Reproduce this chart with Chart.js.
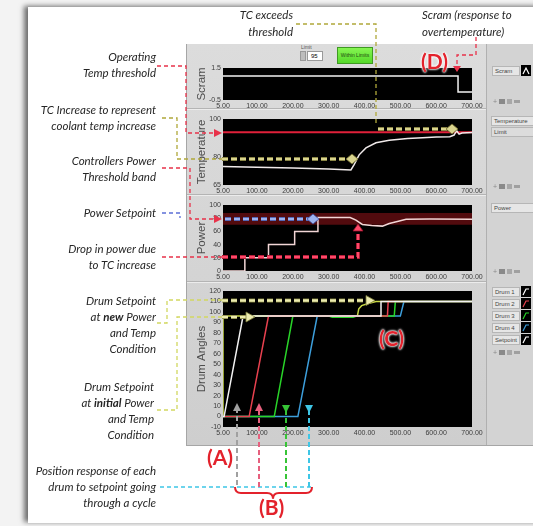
<!DOCTYPE html>
<html>
<head>
<meta charset="utf-8">
<script src="https://cdn.jsdelivr.net/npm/chart.js@4.4.1/dist/chart.umd.min.js"></script>
<style>
  html, body { margin: 0; padding: 0; }
  body { width: 533px; height: 526px; overflow: hidden; position: relative; background: #f3f3f3; font-family: "Lato", "Liberation Sans", sans-serif; }
  .abs { position: absolute; }
  #card { left: 28px; top: 7px; width: 530px; height: 516px; background: #fff; box-shadow: -4px -1px 5px rgba(0,0,0,0.55); }
  #panel { left: 186px; top: 44px; width: 360px; height: 401px; background: linear-gradient(#dcdcdc, #cecece); border-left: 1px solid #a6a6a6; border-bottom: 1px solid #a6a6a6; }
  .sep { left: 187px; width: 299px; height: 0; border-top: 1px solid #b4b4b4; border-bottom: 1px solid #ececec; }
  #rcol { left: 486px; top: 44px; width: 60px; height: 401px; background: #d3d3d3; border-left: 1px solid #b0b0b0; }
  .lg { height: 10px; background: #e6e6e6; border: 1px solid #b6b6b6; font: 6px "Liberation Sans", sans-serif; color: #444; line-height: 9px; padding-left: 2px; box-sizing: border-box; }
  .note { font-style: italic; font-size: 11.5px; line-height: 16px; color: #262626; text-align: right; white-space: nowrap; }
  .tag { color: #e3222c; font-size: 21px; font-weight: bold; line-height: 22px; text-shadow: 0 0 2px #fff, 0 0 2px #fff, 0 0 3px #fff; }
  canvas { position: absolute; }
</style>
</head>
<body>
<div id="card" class="abs"></div>
<div id="panel" class="abs"></div>
<div class="abs sep" style="top:108px"></div>
<div class="abs sep" style="top:194px"></div>
<div class="abs sep" style="top:281px"></div>
<div id="rcol" class="abs"></div>

<!-- LabVIEW controls on top -->
<div class="abs" style="left:301px;top:44px;font:5px 'Liberation Sans';color:#555">Limit</div>
<div class="abs" style="left:300px;top:51px;width:6px;height:10px;background:#bdbdbd;border:1px solid #999;box-sizing:border-box"></div>
<div class="abs" style="left:307px;top:51px;width:16px;height:10px;background:#fff;border:1px solid #999;box-sizing:border-box;font:6px 'Liberation Sans';line-height:8px;padding-left:3px">95</div>
<div class="abs" style="left:337px;top:47px;width:36px;height:17px;background:linear-gradient(#86f552,#55d92a);border:1px solid #3f9a22;box-sizing:border-box;font:5px 'Liberation Sans';line-height:15px;text-align:center;color:#1f4a10">Within Limits</div>

<!-- right column legends -->
<div class="abs lg" style="left:492px;top:66px;width:28px">Scram</div>
<div class="abs lg" style="left:491px;top:116px;width:44px">Temperature</div>
<div class="abs lg" style="left:491px;top:127px;width:44px;background:#dcdcdc">Limit</div>
<div class="abs lg" style="left:491px;top:203px;width:44px">Power</div>
<div class="abs lg" style="left:492px;top:287px;width:28px">Drum 1</div>
<div class="abs lg" style="left:492px;top:299px;width:28px">Drum 2</div>
<div class="abs lg" style="left:492px;top:311px;width:28px">Drum 3</div>
<div class="abs lg" style="left:492px;top:323px;width:28px">Drum 4</div>
<div class="abs lg" style="left:492px;top:335px;width:28px">Setpoint</div>

<canvas id="gScram"></canvas>
<canvas id="gTemp"></canvas>
<canvas id="gPower"></canvas>
<canvas id="gDrum"></canvas>

<svg class="abs" width="533" height="526" style="left:0;top:0">
  <!-- legend icons and palettes -->
  <g>
    <rect x="521" y="65" width="10" height="11" fill="#000"/>
    <polyline points="523,74 526,68 529,74" fill="none" stroke="#fff" stroke-width="1.2"/>
    <rect x="521" y="286" width="10" height="11" fill="#000"/><polyline points="523,295 526,289 529,289" fill="none" stroke="#fff" stroke-width="1.2"/>
    <rect x="521" y="298" width="10" height="11" fill="#000"/><polyline points="523,307 526,301 529,301" fill="none" stroke="#e8414f" stroke-width="1.2"/>
    <rect x="521" y="310" width="10" height="11" fill="#000"/><polyline points="523,319 526,313 529,313" fill="none" stroke="#29d529" stroke-width="1.2"/>
    <rect x="521" y="322" width="10" height="11" fill="#000"/><polyline points="523,331 526,325 529,325" fill="none" stroke="#3d9fdc" stroke-width="1.2"/>
    <rect x="521" y="334" width="10" height="11" fill="#000"/><polyline points="523,343 526,337 529,337" fill="none" stroke="#fff" stroke-width="1.2"/>
  </g>
  <g fill="#8a8a8a" stroke="none" font-family="Liberation Sans" font-size="7">
    <text x="493" y="104">+</text><rect x="499" y="99" width="6" height="5"/><rect x="507" y="99" width="5" height="5" fill="#a8a8a8"/><rect x="514" y="100" width="6" height="3" fill="#a0a0a0"/>
    <text x="493" y="189">+</text><rect x="499" y="184" width="6" height="5"/><rect x="507" y="184" width="5" height="5" fill="#a8a8a8"/><rect x="514" y="185" width="6" height="3" fill="#a0a0a0"/>
    <text x="493" y="274">+</text><rect x="499" y="269" width="6" height="5"/><rect x="507" y="269" width="5" height="5" fill="#a8a8a8"/><rect x="514" y="270" width="6" height="3" fill="#a0a0a0"/>
    <text x="493" y="355">+</text><rect x="499" y="350" width="6" height="5"/><rect x="507" y="350" width="5" height="5" fill="#a8a8a8"/><rect x="514" y="351" width="6" height="3" fill="#a0a0a0"/>
  </g>

  <!-- thin dashed connectors -->
  <g fill="none" stroke-width="1.3" stroke-dasharray="4 3">
    <path d="M157 66 H186 V133 H215" stroke="#e8324a"/>
    <path d="M162 118 H177 V159 H222" stroke="#b0a83a"/>
    <path d="M296 24 H376 V126" stroke="#b0a83a"/>
    <path d="M162 168 H190 V219 H215" stroke="#e8324a"/>
    <path d="M162 213 H180 V218" stroke="#5c6fd6"/>
    <path d="M162 257 H222" stroke="#e8324a"/>
    <path d="M157 323 H167 V300 H222" stroke="#d2d860"/>
    <path d="M157 410 H177 V317 H222" stroke="#d2d860"/>
    <path d="M160 487 H311" stroke="#3ec6e6"/>
    <path d="M476 37 V55 H457 V66" stroke="#e8324a"/>
  </g>
  <g fill="none" stroke-width="2" stroke-dasharray="5 3">
    <path d="M237 485 V411" stroke="#a0a0a0"/>
    <path d="M259 487 V411" stroke="#e6607e"/>
    <path d="M286 487 V411" stroke="#36c436"/>
    <path d="M309 487 V411" stroke="#3ec6e6"/>
  </g>
  <g stroke="none">
    <polygon points="233,411 237,403 241,411" fill="#a0a0a0"/>
    <polygon points="255,411 259,403 263,411" fill="#e6607e"/>
    <polygon points="282,405 286,413 290,405" fill="#36c436"/>
    <polygon points="305,405 309,413 313,405" fill="#3ec6e6"/>
    <polygon points="214,129 222,133 214,137" fill="#e8324a"/>
    <polygon points="214,215 222,219 214,223" fill="#e8324a"/>
    <polygon points="453,66 457,72 461,66" fill="#e8324a"/>
  </g>

  <!-- thick dashed arrows inside plots -->
  <g fill="none" stroke-dasharray="6 3">
    <path d="M222 159 H348" stroke="#6e6a2c" stroke-width="4.2"/>
    <path d="M222 159 H348" stroke="#d9d48e" stroke-width="2.6"/>
    <path d="M378 129 H448" stroke="#6e6a2c" stroke-width="4.2"/>
    <path d="M378 129 H448" stroke="#d9d48e" stroke-width="2.6"/>
    <path d="M225 219 H309" stroke="#3d4fa0" stroke-width="4.2"/>
    <path d="M225 219 H309" stroke="#9db2ee" stroke-width="2.6"/>
    <path d="M222 257 H358 V230" stroke="#9a1028" stroke-width="4"/>
    <path d="M222 257 H358 V230" stroke="#ff4a6a" stroke-width="2.4"/>
    <path d="M222 300.5 H368" stroke="#7c7c3a" stroke-width="4.2"/>
    <path d="M222 300.5 H368" stroke="#ecebae" stroke-width="2.6"/>
    <path d="M222 317 H248" stroke="#7c7c3a" stroke-width="4.2"/>
    <path d="M222 317 H248" stroke="#ecebae" stroke-width="2.6"/>
  </g>
  <g stroke-width="0.8">
    <polygon points="346,159 352,154 358,159 352,164" fill="#d9d48e" stroke="#6e6a2c"/>
    <polygon points="446,129 452,124 458,129 452,134" fill="#d9d48e" stroke="#6e6a2c"/>
    <polygon points="307,219 313,214 319,219 313,224" fill="#9db2ee" stroke="#3d4fa0"/>
    <polygon points="353,231 358,224 363,231" fill="#ff4a6a" stroke="#9a1028"/>
    <polygon points="366,295.5 375,300.5 366,305.5" fill="#ecebae" stroke="#7c7c3a"/>
    <polygon points="246,312 255,317 246,322" fill="#ecebae" stroke="#7c7c3a"/>
  </g>

  <!-- brace under B -->
  <path d="M235 487 Q235 493 241 493 H267 Q273 493 273 499 Q273 493 279 493 H306 Q312 493 312 487" fill="none" stroke="#e3222c" stroke-width="2"/>
</svg>

<div class="abs note" style="right:377px;top:49px">Operating<br>Temp threshold</div>
<div class="abs note" style="right:377px;top:102px">TC Increase to represent<br>coolant temp increase</div>
<div class="abs note" style="right:377px;top:153px">Controllers Power<br>Threshold band</div>
<div class="abs note" style="right:377px;top:205px">Power Setpoint</div>
<div class="abs note" style="right:377px;top:241px">Drop in power due<br>to TC increase</div>
<div class="abs note" style="right:377px;top:293px">Drum Setpoint<br>at <b>new</b> Power<br>and Temp<br>Condition</div>
<div class="abs note" style="right:379px;top:379px">Drum Setpoint<br>at <b>initial</b> Power<br>and Temp<br>Condition</div>
<div class="abs note" style="right:377px;top:463px">Position response of each<br>drum to setpoint going<br>through a cycle</div>
<div class="abs note" style="right:240px;top:6px;line-height:17px">TC exceeds<br>threshold</div>
<div class="abs note" style="left:422px;top:6px;line-height:17px;text-align:left">Scram (response to<br>overtemperature)</div>

<div class="abs tag" style="left:207px;top:446px">(A)</div>
<div class="abs tag" style="left:259px;top:496px">(B)</div>
<div class="abs tag" style="left:379px;top:327px">(C)</div>
<div class="abs tag" style="left:421px;top:50px">(D)</div>

<script>
// time axis shared by all four graphs
const timeTicks = [5, 100, 200, 300, 400, 500, 600, 700];

// scram
const scramTime  = [5, 661, 661, 700];
const scramState = [1, 1, 0, 0];
const scramTicks = [-0.5, 1.5];

// temperature
const tempTime  = [5, 100, 200, 300, 362, 371, 385, 404, 432, 469, 520, 562, 600, 638, 650, 657, 664, 672, 700];
const tempValue = [74.8, 74.4, 74, 73.5, 73, 75.8, 81, 84.7, 87.4, 88.7, 89.6, 90.1, 90.4, 90.6, 91.5, 93.8, 92, 92.6, 92.8];
const tempLimit = 93;
const tempTicks = [65, 80, 100];

// power
const powerTime  = [5, 66, 66, 132, 132, 205, 205, 270, 270, 360, 376, 394, 420, 450, 469, 497, 516, 582, 700];
const powerValue = [0, 0, 20, 20, 40, 40, 60, 60, 81, 81, 77, 70.5, 69, 68, 72, 75.7, 78.3, 78.8, 78.5];
const powerBand  = [70, 88];
const powerTicks = [0, 20, 40, 60, 80, 100];

// drum angles
const drumTicks = [-10, 0, 10, 20, 30, 40, 50, 60, 70, 80, 90, 100, 110, 120];
const drum1Time  = [5, 8, 61, 446, 446, 700];
const drum1Angle = [0, 0, 96, 96, 110, 110];
const drum2Time  = [5, 78, 132, 464, 466, 700];
const drum2Angle = [0, 0, 96, 96, 110, 110];
const drum3Time  = [5, 148, 200, 300, 310, 368, 378, 483, 486, 700];
const drum3Angle = [0, 0, 96, 96, 95, 95, 96, 96, 110, 110];
const drum4Time  = [5, 214, 268, 500, 510, 700];
const drum4Angle = [0, 0, 96, 96, 110, 110];
const setTime  = [5, 5, 380, 384, 392, 410, 432, 700];
const setAngle = [0, 96, 96, 103, 106, 108, 110, 110];

const pts = (xs, ys) => xs.map((x, i) => ({ x: x, y: ys[i] }));
const line = (xs, ys, color, w) => ({ data: pts(xs, ys), borderColor: color, borderWidth: w || 1.5, pointRadius: 0, fill: false });

// black plotting area like the LabVIEW graph
const plotBg = {
  id: "plotBg",
  beforeDraw(chart) {
    const { ctx, chartArea: a } = chart;
    ctx.save();
    ctx.fillStyle = "#000";
    ctx.fillRect(a.left, a.top, a.width, a.height);
    ctx.restore();
  }
};

const tickFont = { size: 7, family: "Liberation Sans" };

function graph(id, plotTop, plotH, yMin, yMax, yTicks, title, datasets) {
  const cv = document.getElementById(id);
  cv.style.left = "187px";
  cv.style.top = (plotTop - 8) + "px";
  cv.width = 303;
  cv.height = plotH + 8 + 16;
  return new Chart(cv, {
    type: "line",
    data: { datasets },
    options: {
      responsive: false,
      animation: false,
      devicePixelRatio: 1,
      layout: { padding: { top: 8, right: 18, left: 0, bottom: 0 } },
      elements: { line: { tension: 0 } },
      plugins: { legend: { display: false }, tooltip: { enabled: false } },
      scales: {
        x: {
          type: "linear", min: 5, max: 700,
          grid: { display: false, drawTicks: false }, border: { display: false },
          afterBuildTicks: (s) => { s.ticks = timeTicks.map((v) => ({ value: v })); },
          afterFit: (s) => { s.height = 16; },
          ticks: { autoSkip: false, maxRotation: 0, padding: 2, color: "#3c3c3c", font: tickFont, callback: (v) => Number(v).toFixed(2) }
        },
        y: {
          type: "linear", min: yMin, max: yMax,
          grid: { display: false, drawTicks: false }, border: { display: false },
          afterBuildTicks: (s) => { s.ticks = yTicks.map((v) => ({ value: v })); },
          afterFit: (s) => { s.width = 36; },
          ticks: { autoSkip: false, padding: 2, color: "#3c3c3c", font: tickFont, callback: (v) => String(v) },
          title: { display: true, text: title, color: "#4e4e4e", font: { size: 11.5, family: "Liberation Sans" }, padding: { top: 8, bottom: 0 } }
        }
      }
    },
    plugins: [plotBg]
  });
}

graph("gScram", 68, 32, -0.5, 1.5, scramTicks, "Scram", [
  line(scramTime, scramState, "#f2f2f2", 1.5)
]);

graph("gTemp", 119, 66, 65, 100, tempTicks, "Temperature", [
  line(tempTime, tempValue, "#f0eaea", 1.5),
  line([5, 700], [tempLimit, tempLimit], "#e0203a", 2)
]);

graph("gPower", 205, 66, 0, 100, powerTicks, "Power", [
  line(powerTime, powerValue, "#f2d6d6", 1.5),
  { data: pts([5, 700], [powerBand[1], powerBand[1]]), borderWidth: 0, pointRadius: 0, fill: false },
  { data: pts([5, 700], [powerBand[0], powerBand[0]]), borderWidth: 0, pointRadius: 0, fill: "-1", backgroundColor: "#520b0e" }
]);

graph("gDrum", 291, 136, -10, 120, drumTicks, "Drum Angles", [
  line(drum1Time, drum1Angle, "#f2f2f2"),
  line(drum2Time, drum2Angle, "#e8414f"),
  line(drum3Time, drum3Angle, "#29d529"),
  line(drum4Time, drum4Angle, "#3d9fdc"),
  line(setTime, setAngle, "#c8d844")
]);
</script>
</body>
</html>
